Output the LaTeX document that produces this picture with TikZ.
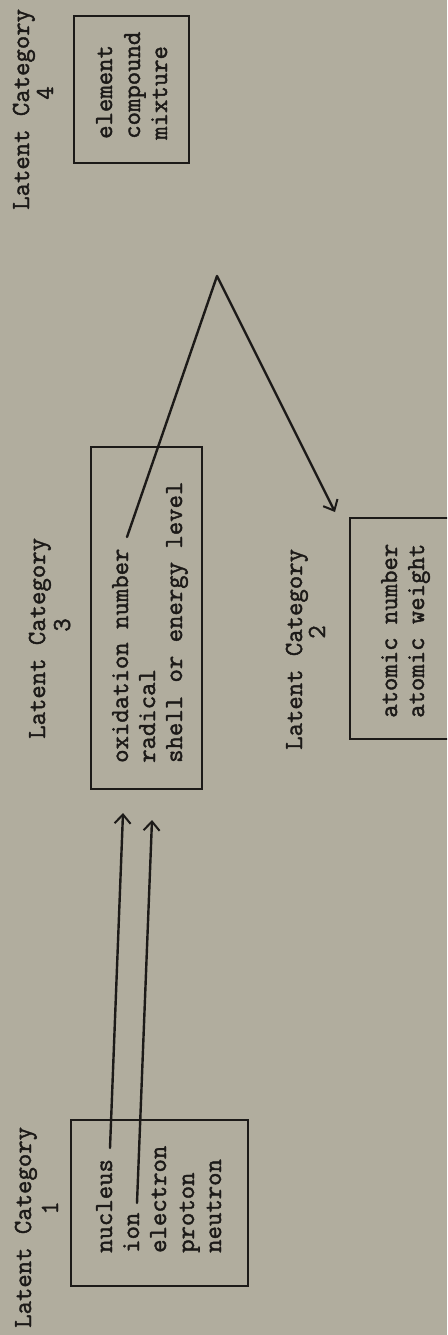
\documentclass[tikz,border=0pt]{standalone}
\usepackage{fontspec}
\setmonofont{Latin Modern Mono}[AutoFakeBold=1.6]
\usetikzlibrary{arrows.meta,calc}
\definecolor{paper}{RGB}{177,173,158}
\definecolor{ink}{RGB}{28,26,24}
\begin{document}
\begin{tikzpicture}[x=1pt,y=-1pt,
  txt/.style={rotate=90, anchor=base west, inner sep=0pt, font=\fontsize{26}{30}\ttfamily\bfseries, text=ink},
  num/.style={rotate=90, anchor=base, inner sep=0pt, font=\fontsize{26}{30}\ttfamily\bfseries, text=ink},
  catbox/.style={draw=ink, line width=2pt, inner sep=0pt},
  conn/.style={draw=ink, line width=2.4pt, line cap=round, line join=round},
  tip/.style={-{Straight Barb[length=9pt,width=16pt,line width=2pt]}}]
\useasboundingbox (0,0) rectangle (447,1335);
\clip (0,0) rectangle (447,1335);
\fill[paper] (0,0) rectangle (447,1335);

% boxes
\node[catbox, minimum width=115pt, minimum height=147pt] (b4) at (131.5,89.5) {};
\node[catbox, minimum width=111pt, minimum height=342pt] (b3) at (146.5,618) {};
\node[catbox, minimum width=120pt, minimum height=221pt] (b2) at (410,628.5) {};
\node[catbox, minimum width=177pt, minimum height=166pt] (b1) at (159.5,1203) {};

% category labels
\node[txt] (l4) at (29,210) {Latent Category};
\node[num] (n4) at (53,93) {4};
\node[txt] (l3) at (45,739) {Latent Category};
\node[num] (n3) at (70,625) {3};
\node[txt] (l2) at (302,750) {Latent Category};
\node[num] (n2) at (325,632) {2};
\node[txt] (l1) at (31,1328) {Latent Category};
\node[num] (n1) at (58,1208) {1};

% box 4
\node[txt] (element) at (112,139) {element};
\node[txt] (compound) at (140,139) {compound};
\node[txt] (mixture) at (167,140) {mixture};
% box 3
\node[txt] (oxidation) at (128,763) {oxidation number};
\node[txt] (radical) at (155,763) {radical};
\node[txt] (shell) at (182,763) {shell or energy level};
% box 2
\node[txt] (atnum) at (397,718) {atomic number};
\node[txt] (atwt) at (424,718) {atomic weight};
% box 1
\node[txt] (nucleus) at (112,1253) {nucleus};
\node[txt] (ion) at (139,1253) {ion};
\node[txt] (electron) at (166,1253) {electron};
\node[txt] (proton) at (194,1253) {proton};
\node[txt] (neutron) at (221,1253) {neutron};

% connector ends
\coordinate (s1) at (110,1148);
\coordinate (t1) at (123,813);
\coordinate (s2) at (137,1203);
\coordinate (t2) at (152,820);
\coordinate (s3) at (127,537);
\coordinate (apex) at (217,276);
\coordinate (t3) at (335,512);

\draw[conn,tip] (s1) -- (t1);
\draw[conn,tip] (s2) -- (t2);
\draw[conn,tip] (s3) -- (apex) -- (t3);
\end{tikzpicture}
\end{document}
